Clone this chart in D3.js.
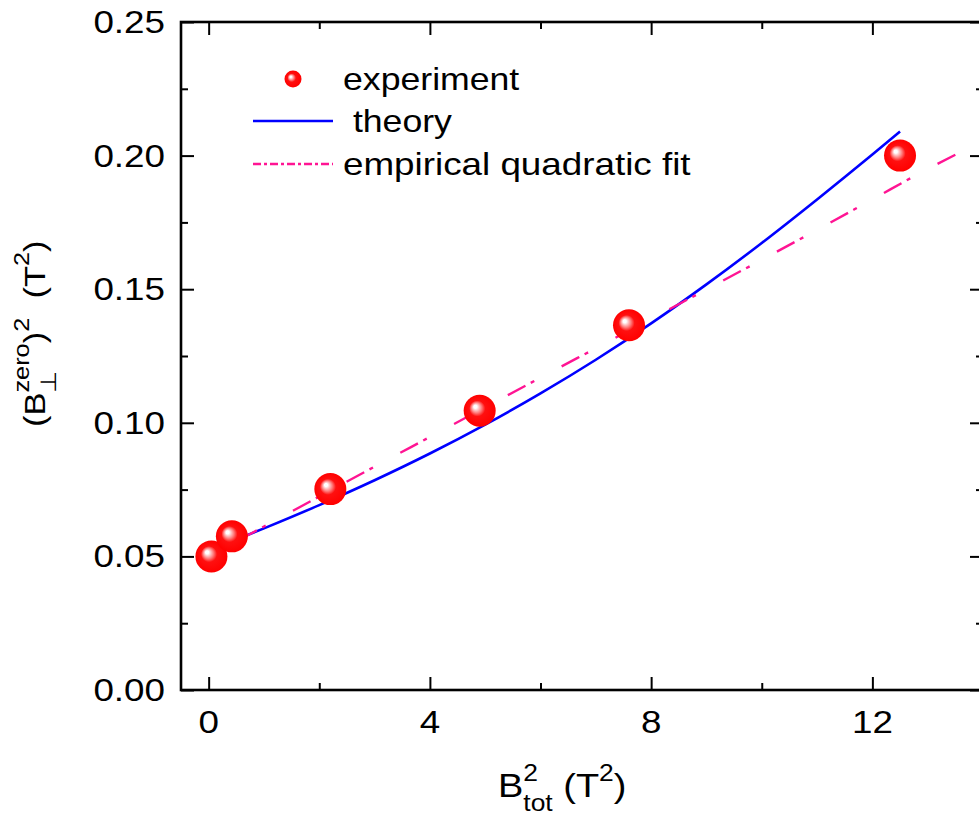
<!DOCTYPE html>
<html>
<head>
<meta charset="utf-8">
<script src="https://cdn.jsdelivr.net/npm/d3@7"></script>
<style>
  html, body { margin: 0; padding: 0; background: #fff; }
  svg { display: block; }
  text { font-family: "Liberation Sans", Arial, Helvetica, sans-serif; fill: #000; }
</style>
</head>
<body>
<svg id="chart" width="979" height="822"></svg>
<script>
// Measured points
const expX = [0.05, 0.42, 2.2, 4.9, 7.6, 12.5];
const expY = [0.050, 0.0575, 0.0752, 0.1045, 0.1365, 0.2000];

// Theoretical curve
const theoryX = [0.05, 1, 2, 3, 4, 5, 6, 7, 8, 9, 10, 11, 12, 12.5];
const theoryY = [0.0527, 0.0605, 0.0692, 0.0785, 0.0885, 0.0993, 0.1110, 0.1236, 0.1372, 0.1518, 0.1673, 0.1836, 0.2004, 0.2090];

// Empirical quadratic fit
const fitX = [0, 1, 2, 3, 4, 5, 6, 7, 8, 9, 10, 11, 12, 13, 13.5];
const fitY = [0.0500, 0.0612, 0.0724, 0.0836, 0.0947, 0.1058, 0.1169, 0.1279, 0.1389, 0.1499, 0.1610, 0.1722, 0.1836, 0.1950, 0.2003];

// Axis ticks
const xMajor = [0, 4, 8, 12];
const xMinor = [2, 6, 10];
const yMajor = [0, 0.05, 0.10, 0.15, 0.20, 0.25];
const yMinor = [0.025, 0.075, 0.125, 0.175, 0.225];

const legendLabels = ["experiment", " theory", "empirical quadratic fit"];

const svg = d3.select("#chart");
const L = 181, R = 983, T = 22, B = 690;
const x = d3.scaleLinear().domain([-0.5, 14]).range([L, R]);
const y = d3.scaleLinear().domain([0, 0.25]).range([B, T]);

const TXS = 1.15; // horizontal stretch of the lettering

// sphere shading
const defs = svg.append("defs");
const grad = defs.append("radialGradient").attr("id", "ball")
  .attr("cx", 0.5).attr("cy", 0.5).attr("r", 0.5).attr("fx", 0.35).attr("fy", 0.36);
[[0, "#ffffff"], [0.1, "#ffffff"], [0.2, "#ffc4c4"], [0.33, "#ff7a7a"], [0.5, "#ff1010"], [1, "#ff0000"]]
  .forEach(([o, c]) => grad.append("stop").attr("offset", o).attr("stop-color", c));

// clip for the plot area
defs.append("clipPath").attr("id", "plotclip").append("rect")
  .attr("x", L).attr("y", T).attr("width", R - L).attr("height", B - T);

// ---- axes ----
function styleAxis(g) {
  g.select(".domain").remove();
  g.selectAll(".tick line").attr("stroke", "#000").attr("stroke-width", 2);
}
svg.append("g").attr("transform", `translate(0,${B})`)
  .call(d3.axisBottom(x).tickValues(xMajor).tickSize(-13).tickPadding(0).tickFormat(() => ""))
  .call(styleAxis);
svg.append("g").attr("transform", `translate(0,${B})`)
  .call(d3.axisBottom(x).tickValues(xMinor).tickSize(-7).tickFormat(() => ""))
  .call(styleAxis);
svg.append("g").attr("transform", `translate(0,${T})`)
  .call(d3.axisTop(x).tickValues(xMajor).tickSize(-13).tickFormat(() => ""))
  .call(styleAxis);
svg.append("g").attr("transform", `translate(0,${T})`)
  .call(d3.axisTop(x).tickValues(xMinor).tickSize(-7).tickFormat(() => ""))
  .call(styleAxis);
svg.append("g").attr("transform", `translate(${L},0)`)
  .call(d3.axisLeft(y).tickValues(yMajor).tickSize(-13).tickFormat(() => ""))
  .call(styleAxis);
svg.append("g").attr("transform", `translate(${L},0)`)
  .call(d3.axisLeft(y).tickValues(yMinor).tickSize(-7).tickFormat(() => ""))
  .call(styleAxis);
svg.append("g").attr("transform", `translate(${R},0)`)
  .call(d3.axisRight(y).tickValues(yMajor).tickSize(-13).tickFormat(() => ""))
  .call(styleAxis);
svg.append("g").attr("transform", `translate(${R},0)`)
  .call(d3.axisRight(y).tickValues(yMinor).tickSize(-7).tickFormat(() => ""))
  .call(styleAxis);

// frame
svg.append("rect").attr("x", L).attr("y", T).attr("width", R - L).attr("height", B - T)
  .attr("fill", "none").attr("stroke", "#000").attr("stroke-width", 2.6);

// tick labels
function stretchedText(px, py, str, size, anchor) {
  const g = svg.append("g").attr("transform", `translate(${px},${py}) scale(${TXS},1)`);
  return g.append("text").attr("x", 0).attr("y", 0).attr("font-size", size)
    .attr("text-anchor", anchor || "start").text(str);
}
xMajor.forEach(v => stretchedText(x(v), 733, d3.format("d")(v), 32, "middle"));
yMajor.forEach(v => stretchedText(165, y(v) + 11, d3.format(".2f")(v), 32, "end"));

// ---- series ----
const plot = svg.append("g").attr("clip-path", "url(#plotclip)");
const lineGen = d3.line().x(d => x(d[0])).y(d => y(d[1])).curve(d3.curveMonotoneX);

plot.append("path").datum(d3.zip(theoryX, theoryY))
  .attr("d", lineGen).attr("fill", "none").attr("stroke", "#0000ff").attr("stroke-width", 2.6);

// dash-dot fit line; the pattern is phased so the line finishes on a dash
const dashPattern = [20, 6, 4, 31];
const period = d3.sum(dashPattern);
const fitPath = plot.append("path").datum(d3.zip(fitX, fitY))
  .attr("d", lineGen).attr("fill", "none").attr("stroke", "#ff1493").attr("stroke-width", 2.4)
  .attr("stroke-dasharray", dashPattern.join(" "));
const fitLen = fitPath.node().getTotalLength();
fitPath.attr("stroke-dashoffset", ((dashPattern[0] - fitLen) % period + period) % period);

plot.selectAll("circle.exp").data(d3.zip(expX, expY)).join("circle")
  .attr("class", "exp")
  .attr("cx", d => x(d[0])).attr("cy", d => y(d[1])).attr("r", 16)
  .attr("fill", "url(#ball)");

// ---- legend ----
svg.append("circle").attr("cx", 293).attr("cy", 79).attr("r", 8.5).attr("fill", "url(#ball)");
svg.append("line").attr("x1", 253).attr("x2", 333).attr("y1", 121).attr("y2", 121)
  .attr("stroke", "#0000ff").attr("stroke-width", 2.6);
svg.append("line").attr("x1", 253).attr("x2", 333).attr("y1", 164).attr("y2", 164)
  .attr("stroke", "#ff1493").attr("stroke-width", 2.4).attr("stroke-dasharray", "8 3 3 3");
stretchedText(343, 90, legendLabels[0], 31).attr("xml:space", "preserve");
stretchedText(343, 132, legendLabels[1], 31).attr("xml:space", "preserve");
stretchedText(343, 175, legendLabels[2], 32).attr("xml:space", "preserve");

// ---- axis titles ----
// Lays out a run of text pieces; pieces flagged 'stack' start at the previous piece's x.
function richText(parent, pieces) {
  const t = parent.append("text").attr("xml:space", "preserve");
  let cx = 0, prevStart = 0;
  pieces.forEach(p => {
    const startX = p.stack ? prevStart : cx;
    const s = t.append("tspan").attr("x", startX).attr("y", p.dy || 0)
      .attr("font-size", p.size).text(p.text);
    const w = s.node().getComputedTextLength();
    if (!p.stack) prevStart = startX;
    cx = Math.max(cx, startX + w);
  });
  return t;
}

const xt = svg.append("g").attr("transform", `translate(498,797) scale(${TXS},1)`);
richText(xt, [
  { text: "B", size: 33 },
  { text: "2", size: 23, dy: -16 },
  { text: "tot", size: 23, dy: 14, stack: true },
  { text: " (T", size: 33 },
  { text: "2", size: 23, dy: -16 },
  { text: ")", size: 33 }
]);

const yt = svg.append("g").attr("transform", "translate(45,427) rotate(-90) scale(1.15,1)");
richText(yt, [
  { text: "(B", size: 30 },
  { text: "zero", size: 22, dy: -16 },
  { text: "⊥", size: 22, dy: 11, stack: true },
  { text: ")", size: 30 },
  { text: "2", size: 22, dy: -16 },
  { text: "  (T", size: 30 },
  { text: "2", size: 22, dy: -16 },
  { text: ")", size: 30 }
]);
</script>
</body>
</html>
